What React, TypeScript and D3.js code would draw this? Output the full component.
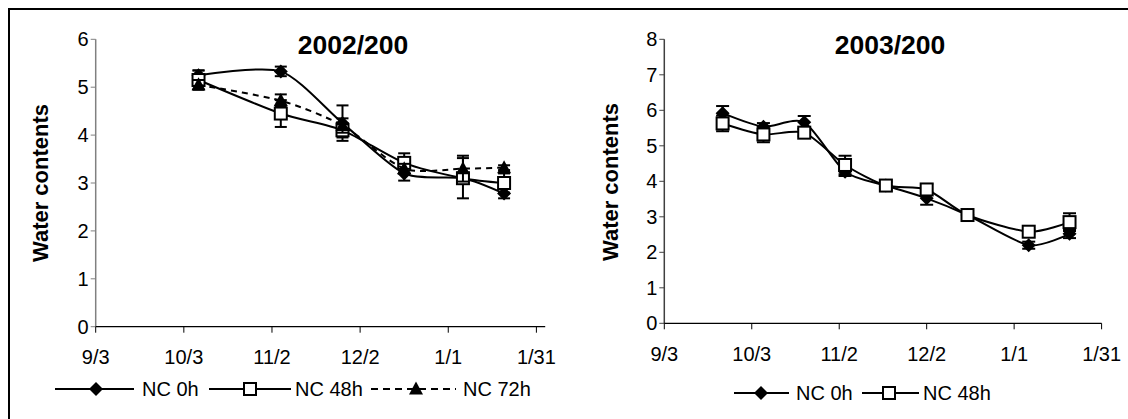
import React from "react";
import * as d3 from "d3";

// ---------- data ----------
const yTicksA = [0, 1, 2, 3, 4, 5, 6];
const yTicksB = [0, 1, 2, 3, 4, 5, 6, 7, 8];
const xTickDatesA = ["2002-09-03", "2002-10-03", "2002-11-02", "2002-12-02", "2003-01-01", "2003-01-31"];
const xTickDatesB = ["2003-09-03", "2003-10-03", "2003-11-02", "2003-12-02", "2004-01-01", "2004-01-31"];

const datesA = ["2002-10-08", "2002-11-05", "2002-11-26", "2002-12-17", "2003-01-06", "2003-01-20"];
const nc0A = [5.25, 5.33, 4.25, 3.2, 3.1, 2.78];
const nc0AErr = [0.1, 0.1, 0.37, 0.15, 0.1, 0.1];
const nc48A = [5.15, 4.45, 4.1, 3.42, 3.1, 3.0];
const nc48AErr = [0.2, 0.28, 0.15, 0.2, 0.42, 0.2];
const nc72A = [5.05, 4.72, 4.2, 3.3, 3.3, 3.32];
const nc72AErr = [0.1, 0.13, 0.15, 0.1, 0.27, 0.05];

const datesB = ["2003-09-23", "2003-10-07", "2003-10-21", "2003-11-04", "2003-11-18", "2003-12-02", "2003-12-16", "2004-01-06", "2004-01-20"];
const nc0B = [5.92, 5.54, 5.66, 4.27, 3.88, 3.52, 3.05, 2.2, 2.52];
const nc0BErr = [0.2, 0.1, 0.18, 0.12, 0.1, 0.18, 0.05, 0.1, 0.12];
const nc48B = [5.63, 5.32, 5.37, 4.46, 3.88, 3.77, 3.05, 2.58, 2.85];
const nc48BErr = [0.22, 0.22, 0.1, 0.26, 0.15, 0.15, 0.05, 0.05, 0.25];

const titleA = "2002/200";
const titleB = "2003/200";
const yTitle = "Water contents";
const seriesNames = ["NC 0h", "NC 48h", "NC 72h"];

// ---------- helpers ----------
const parse = d3.timeParse("%Y-%m-%d");
const fmt = d3.timeFormat("%-m/%-d");
const FONT = "Arial, 'Liberation Sans', Helvetica, sans-serif";

type MarkerKind = "diamond" | "square" | "triangle";

function Marker({ kind, cx, cy }: { kind: MarkerKind; cx: number; cy: number }) {
  if (kind === "square")
    return <rect x={cx - 6} y={cy - 6} width={12} height={12} fill="#fff" stroke="#000" strokeWidth={2} />;
  if (kind === "diamond")
    return <path d={`M${cx},${cy - 7}L${cx + 7},${cy}L${cx},${cy + 7}L${cx - 7},${cy}Z`} fill="#000" />;
  return <path d={`M${cx},${cy - 7.5}L${cx + 7},${cy + 5.5}L${cx - 7},${cy + 5.5}Z`} fill="#000" />;
}

interface SeriesDef {
  vals: number[];
  errs: number[];
  marker: MarkerKind;
  dashed?: boolean;
}

interface ChartDef {
  title: string;
  titleX: number;
  xDomain: [string, string];
  xAxisEnd: string;
  xRange: [number, number];
  yDomain: [number, number];
  yRange: [number, number];
  yTicks: number[];
  xTicks: string[];
  dates: string[];
  series: SeriesDef[];
  yAxisColor: string;
  yTitleX: number;
  yTitleY: number;
  xLabelY: number;
  capW: number;
  legend: { x1: number; x2: number; mx: number; tx: number }[];
  legendY: number;
  legendTextY: number;
}

function Chart({ c }: { c: ChartDef }) {
  const x = d3.scaleTime().domain([parse(c.xDomain[0])!, parse(c.xDomain[1])!]).range(c.xRange);
  const y = d3.scaleLinear().domain(c.yDomain).range(c.yRange);
  const x0 = c.xRange[0];
  const y0 = y(0);
  const xEnd = x(parse(c.xAxisEnd)!);
  const line = d3
    .line<[number, number]>()
    .x((d) => d[0])
    .y((d) => d[1])
    .curve(d3.curveCardinal.tension(0.25));
  const dts = c.dates.map((d) => parse(d)!);

  return (
    <g fontFamily={FONT}>
      <text x={c.titleX} y={54} textAnchor="middle" fontWeight="bold" fontSize={26.5}>
        {c.title}
      </text>
      <text
        transform={`translate(${c.yTitleX},${c.yTitleY}) rotate(-90)`}
        textAnchor="middle"
        fontWeight="bold"
        fontSize={22}
      >
        {yTitle}
      </text>
      {/* y axis */}
      <line x1={x0} x2={x0} y1={y(c.yDomain[1])} y2={y0} stroke={c.yAxisColor} strokeWidth={1.5} />
      {c.yTicks.map((t) => (
        <g key={"y" + t}>
          <line x1={x0 - 5} x2={x0} y1={y(t)} y2={y(t)} stroke={c.yAxisColor} strokeWidth={1} />
          <text x={x0 - 7} y={y(t) + 7} textAnchor="end" fontSize={20}>
            {t}
          </text>
        </g>
      ))}
      {/* x axis */}
      <line x1={x0} x2={xEnd} y1={y0} y2={y0} stroke="#000" strokeWidth={1.2} />
      {c.xTicks.map((t) => {
        const xx = x(parse(t)!);
        return (
          <g key={"x" + t}>
            <line x1={xx} x2={xx} y1={y0} y2={y0 + 6} stroke="#000" strokeWidth={1} />
            <text x={xx} y={c.xLabelY} textAnchor="middle" fontSize={20}>
              {fmt(parse(t)!)}
            </text>
          </g>
        );
      })}
      {/* series */}
      {c.series.map((s, si) => {
        const pts: [number, number][] = s.vals.map((v, i) => [x(dts[i]), y(v)]);
        return (
          <g key={"s" + si}>
            <path
              d={line(pts) || ""}
              fill="none"
              stroke="#000"
              strokeWidth={2}
              strokeDasharray={s.dashed ? "6,5" : undefined}
            />
            {s.vals.map((v, i) => {
              const xx = x(dts[i]);
              const top = y(v + s.errs[i]);
              const bot = y(v - s.errs[i]);
              return (
                <g key={i}>
                  <line x1={xx} x2={xx} y1={top} y2={bot} stroke="#000" strokeWidth={2} />
                  <line x1={xx - c.capW / 2} x2={xx + c.capW / 2} y1={top} y2={top} stroke="#000" strokeWidth={2} />
                  <line x1={xx - c.capW / 2} x2={xx + c.capW / 2} y1={bot} y2={bot} stroke="#000" strokeWidth={2} />
                </g>
              );
            })}
            {pts.map((p, i) => (
              <Marker key={"m" + i} kind={s.marker} cx={p[0]} cy={p[1]} />
            ))}
          </g>
        );
      })}
      {/* legend */}
      {c.series.map((s, si) => {
        const L = c.legend[si];
        return (
          <g key={"l" + si}>
            <line
              x1={L.x1}
              x2={L.x2}
              y1={c.legendY}
              y2={c.legendY}
              stroke="#000"
              strokeWidth={2}
              strokeDasharray={s.dashed ? "7,5" : undefined}
            />
            <Marker kind={s.marker} cx={L.mx} cy={c.legendY} />
            <text x={L.tx} y={c.legendTextY} fontSize={20}>
              {seriesNames[si]}
            </text>
          </g>
        );
      })}
    </g>
  );
}

const chartA: ChartDef = {
  title: titleA,
  titleX: 353,
  xDomain: ["2002-09-03", "2003-01-31"],
  xAxisEnd: "2003-02-03",
  xRange: [95.7, 536.4],
  yDomain: [0, 6],
  yRange: [326.7, 39.3],
  yTicks: yTicksA,
  xTicks: xTickDatesA,
  dates: datesA,
  series: [
    { vals: nc0A, errs: nc0AErr, marker: "diamond" },
    { vals: nc48A, errs: nc48AErr, marker: "square" },
    { vals: nc72A, errs: nc72AErr, marker: "triangle", dashed: true },
  ],
  yAxisColor: "#808080",
  yTitleX: 48,
  yTitleY: 183,
  xLabelY: 364,
  capW: 12,
  legend: [
    { x1: 55, x2: 134, mx: 96, tx: 142 },
    { x1: 209, x2: 291, mx: 250, tx: 295 },
    { x1: 371, x2: 456, mx: 416, tx: 463 },
  ],
  legendY: 389,
  legendTextY: 396,
};

const chartB: ChartDef = {
  title: titleB,
  titleX: 890,
  xDomain: ["2003-09-03", "2004-01-31"],
  xAxisEnd: "2004-01-31",
  xRange: [664.3, 1101.6],
  yDomain: [0, 8],
  yRange: [323.3, 39.3],
  yTicks: yTicksB,
  xTicks: xTickDatesB,
  dates: datesB,
  series: [
    { vals: nc0B, errs: nc0BErr, marker: "diamond" },
    { vals: nc48B, errs: nc48BErr, marker: "square" },
  ],
  yAxisColor: "#404040",
  yTitleX: 618,
  yTitleY: 182,
  xLabelY: 361,
  capW: 13,
  legend: [
    { x1: 734, x2: 789, mx: 761, tx: 796 },
    { x1: 862, x2: 919, mx: 889, tx: 923 },
  ],
  legendY: 393,
  legendTextY: 400,
};

export default function App() {
  return (
    <svg
      width={1128}
      height={419}
      style={{ position: "absolute", left: 0, top: 0, background: "#fff" }}
    >
      <rect x={0} y={0} width={1128} height={419} fill="#fff" />
      <path d="M9,419V9H1128" fill="none" stroke="#000" strokeWidth={2} />
      <Chart c={chartA} />
      <Chart c={chartB} />
    </svg>
  );
}
